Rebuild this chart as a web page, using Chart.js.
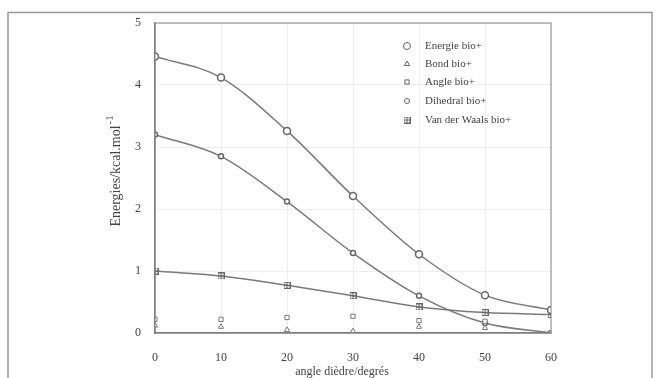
<!DOCTYPE html>
<html>
<head>
<meta charset="utf-8">
<script src="https://cdn.jsdelivr.net/npm/chart.js@4.4.0/dist/chart.umd.min.js"></script>
<style>
  body { margin: 0; background: #fff; }
  #wrap { width: 656px; height: 378px; }
</style>
</head>
<body>
<div id="wrap"><canvas id="myChart"></canvas></div>
<script>
const angles = [0, 10, 20, 30, 40, 50, 60];
const energie = [4.46, 4.12, 3.26, 2.21, 1.27, 0.61, 0.37];
const bond = [0.12, 0.1, 0.05, 0.03, 0.1, 0.08, 0];
const angle = [0.22, 0.22, 0.25, 0.27, 0.2, 0.19, 0];
const dihedral = [3.2, 2.85, 2.12, 1.29, 0.6, 0.16, 0];
const vdw = [1.0, 0.92, 0.77, 0.6, 0.42, 0.33, 0.3];
const yTicks = [0, 1, 2, 3, 4, 5];

const ink = "#7a7a7a";
const serif = "'Liberation Serif', 'DejaVu Serif', serif";

// square with a plus inside, for Van der Waals
const boxPlus = document.createElement("canvas");
boxPlus.width = 7; boxPlus.height = 7;
(function () {
  const c = boxPlus.getContext("2d");
  c.strokeStyle = "#666";
  c.lineWidth = 1;
  c.strokeRect(0.5, 0.5, 6, 6);
  c.beginPath();
  c.moveTo(3.5, 0.5); c.lineTo(3.5, 6.5);
  c.moveTo(0.5, 3.5); c.lineTo(6.5, 3.5);
  c.stroke();
})();

function pts(arr) { return arr.map((v, i) => ({ x: angles[i], y: v })); }

const frame = {
  id: "frame",
  afterDraw(chart) {
    const ctx = chart.ctx;
    const a = chart.chartArea;
    ctx.save();
    // outer frame
    ctx.strokeStyle = "#999";
    ctx.lineWidth = 1.5;
    ctx.beginPath();
    ctx.moveTo(8, 378); ctx.lineTo(8, 12.5); ctx.lineTo(652, 12.5); ctx.lineTo(652, 378);
    ctx.stroke();
    // plot box
    ctx.strokeStyle = "#888";
    ctx.lineWidth = 1;
    ctx.strokeRect(a.left, a.top, a.right - a.left, a.bottom - a.top);

    // axis titles
    ctx.fillStyle = "#444";
    ctx.font = "12px " + serif;
    ctx.textAlign = "center";
    ctx.textBaseline = "middle";
    ctx.fillText("angle dièdre/degrés", 342, 372);
    ctx.restore();

    ctx.save();
    ctx.fillStyle = "#444";
    ctx.textBaseline = "middle";
    ctx.translate(116, 176);
    ctx.rotate(-Math.PI / 2);
    ctx.font = "14px " + serif;
    ctx.textAlign = "center";
    ctx.fillText("Energies/kcal.mol", 0, 0);
    const w = ctx.measureText("Energies/kcal.mol").width;
    ctx.font = "11px " + serif;
    ctx.textAlign = "left";
    ctx.fillText("-1", w / 2 + 1, -6);
    ctx.restore();

    // legend
    ctx.save();
    ctx.font = "11px " + serif;
    ctx.textAlign = "left";
    ctx.textBaseline = "middle";
    const rows = [46, 64, 82, 101, 120];
    chart.data.datasets.forEach((ds, i) => {
      const y = rows[i];
      ctx.strokeStyle = "#666";
      ctx.fillStyle = "#fff";
      ctx.lineWidth = 1;
      Chart.helpers.drawPoint(ctx, {
        pointStyle: ds.pointStyle,
        radius: ds.pointRadius,
        borderWidth: 1
      }, 407, y);
      ctx.fillStyle = "#444";
      ctx.fillText(ds.label, 425, y);
    });
    ctx.restore();
  }
};

new Chart("myChart", {
  type: "line",
  data: {
    datasets: [{
      label: "Energie bio+",
      data: pts(energie),
      borderColor: ink,
      borderWidth: 1.5,
      pointStyle: "circle",
      pointRadius: 3.5,
      pointBorderColor: "#666",
      pointBackgroundColor: "#fff",
      cubicInterpolationMode: "monotone"
    }, {
      label: "Bond bio+",
      data: pts(bond),
      showLine: false,
      pointStyle: "triangle",
      pointRadius: 3,
      pointBorderColor: "#777",
      pointBackgroundColor: "#fff"
    }, {
      label: "Angle bio+",
      data: pts(angle),
      showLine: false,
      pointStyle: "rect",
      pointRadius: 3,
      pointBorderColor: "#777",
      pointBackgroundColor: "#fff"
    }, {
      label: "Dihedral bio+",
      data: pts(dihedral),
      borderColor: ink,
      borderWidth: 1.5,
      pointStyle: "circle",
      pointRadius: 2.5,
      pointBorderColor: "#666",
      pointBackgroundColor: "#fff",
      cubicInterpolationMode: "monotone"
    }, {
      label: "Van der Waals bio+",
      data: pts(vdw),
      borderColor: ink,
      borderWidth: 1.5,
      pointStyle: boxPlus,
      pointRadius: 4,
      cubicInterpolationMode: "monotone"
    }]
  },
  options: {
    responsive: true,
    maintainAspectRatio: false,
    animation: false,
    layout: { padding: { top: 23, right: 105, left: 0, bottom: 0 } },
    plugins: {
      legend: { display: false },
      tooltip: { enabled: false }
    },
    scales: {
      x: {
        type: "linear",
        min: 0,
        max: 60,
        afterBuildTicks: (s) => { s.ticks = angles.map(v => ({ value: v })); },
        afterFit: (s) => { s.height = 45; },
        grid: { color: "#eeeeee", drawTicks: false },
        border: { color: "#777", width: 1.5 },
        ticks: { color: "#444", padding: 18, font: { family: serif, size: 12 } }
      },
      y: {
        min: 0,
        max: 5,
        afterBuildTicks: (s) => { s.ticks = yTicks.map(v => ({ value: v })); },
        afterFit: (s) => { s.width = 155; },
        grid: { color: "#eeeeee", drawTicks: false },
        border: { color: "#777", width: 1.5 },
        ticks: { color: "#444", padding: 14, font: { family: serif, size: 12 } }
      }
    }
  },
  plugins: [frame]
});
</script>
</body>
</html>
